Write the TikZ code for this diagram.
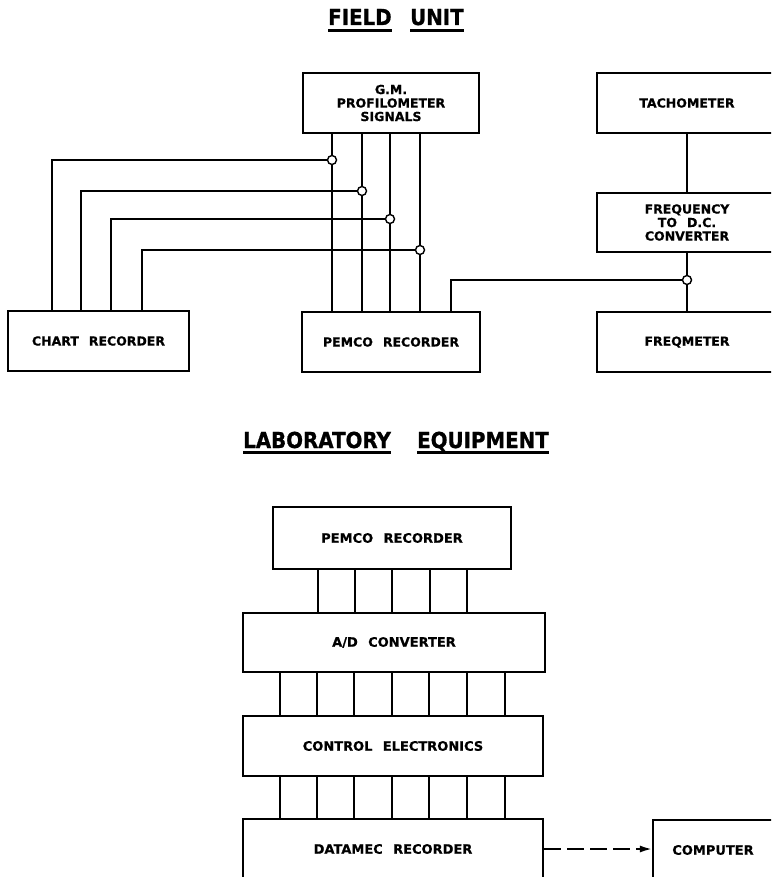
\documentclass[tikz,border=0pt]{standalone}
\usepackage{fontspec}
\usepackage{graphicx}
\setmainfont{DejaVu Sans}
\newfontfamily\labelface{DejaVu Sans Bold}[WordSpace=2.3, FakeBold=0.6]
\newfontfamily\headface{DejaVu Sans Bold}[FakeBold=1]
\newcommand{\lblfont}{\labelface\fontsize{12.5}{13.5}\selectfont}
\newcommand{\lblbigfont}{\labelface\fontsize{13}{14}\selectfont}
\newcommand{\headfont}{\headface\fontsize{22}{24}\selectfont}
\newcommand{\headword}[1]{\scalebox{0.9}[1]{#1}}
\usetikzlibrary{arrows.meta}

\begin{document}
\begin{tikzpicture}[x=1pt,y=-1pt,
  box/.style={draw, line width=2.1pt, rectangle, inner sep=0pt, align=center, font=\lblfont},
  labbox/.style={box, font=\lblbigfont},
  wire/.style={line width=1.9pt},
  junction/.style={circle, draw, fill=white, line width=1.4pt, inner sep=0pt, minimum size=9pt},
  headtext/.style={inner sep=0pt, font=\headfont, anchor=base west},
  headrule/.style={line width=3pt}]

\useasboundingbox (0,0) rectangle (771,877);
\clip (0,0) rectangle (771,877);

% ---------- Field unit ----------
\node[headtext] (fieldw) at (328,25) {\headword{FIELD}};
\node[headtext] (unitw)  at (410,25) {\headword{UNIT}};
\draw[headrule] ([yshift=-6pt]fieldw.base west) -- ([yshift=-6pt]fieldw.base east);
\draw[headrule] ([yshift=-6pt]unitw.base west) -- ([yshift=-6pt]unitw.base east);

\node[box, minimum width=176pt, minimum height=60pt] (gm) at (391,103)
  {G.M.\\PROFILOMETER\\SIGNALS};
\node[box, minimum width=178pt, minimum height=60pt] (pemcoF) at (391,342) {PEMCO RECORDER};
\node[box, minimum width=181pt, minimum height=60pt] (chart) at (98.5,341) {CHART RECORDER};
\node[box, minimum width=180pt, minimum height=60pt] (tacho) at (687,103) {TACHOMETER};
\node[box, minimum width=180pt, minimum height=59pt] (freq) at (687,222.5)
  {FREQUENCY\\TO D.C.\\CONVERTER};
\node[box, minimum width=180pt, minimum height=60pt] (freqm) at (687,342) {FREQMETER};

% tap points on the signal lines
\coordinate (j1) at (332,160);
\coordinate (j2) at (362,191);
\coordinate (j3) at (390,219);
\coordinate (j4) at (420,250);
\coordinate (j5) at (687,280);

% signal lines from the profilometer to the PEMCO recorder
\foreach \x in {332,362,390,420}
  \draw[wire] (\x,0 |- gm.south) -- (\x,0 |- pemcoF.north);

% chart recorder taps
\draw[wire] (52,0 |- chart.north)  |- (j1);
\draw[wire] (81,0 |- chart.north)  |- (j2);
\draw[wire] (111,0 |- chart.north) |- (j3);
\draw[wire] (142,0 |- chart.north) |- (j4);

% speed channel
\draw[wire] (tacho.south) -- (freq.north);
\draw[wire] (freq.south) -- (freqm.north);
\draw[wire] (451,0 |- pemcoF.north) |- (j5);

\foreach \j in {j1,j2,j3,j4,j5}
  \node[junction] at (\j) {};

% ---------- Laboratory equipment ----------
\node[headtext] (labw)   at (243,448) {\headword{LABORATORY}};
\node[headtext] (equipw) at (417,448) {\headword{EQUIPMENT}};
\draw[headrule] ([yshift=-4pt]labw.base west) -- ([yshift=-4pt]labw.base east);
\draw[headrule] ([yshift=-4pt]equipw.base west) -- ([yshift=-4pt]equipw.base east);

\node[labbox, minimum width=238pt, minimum height=62pt] (pemcoL) at (392,538) {PEMCO RECORDER};
\node[labbox, minimum width=302pt, minimum height=59pt] (ad) at (394,642.5) {A/D CONVERTER};
\node[labbox, minimum width=300pt, minimum height=60pt] (ctrl) at (393,746) {CONTROL ELECTRONICS};
\node[labbox, minimum width=300pt, minimum height=60pt] (datamec) at (393,849) {DATAMEC RECORDER};
\node[labbox, minimum width=120pt, minimum height=60pt] (computer) at (713,850) {COMPUTER};

\foreach \x in {318,355,392,430,467}
  \draw[wire] (\x,0 |- pemcoL.south) -- (\x,0 |- ad.north);
\foreach \x in {280,317,354,392,429,467,505}
  \draw[wire] (\x,0 |- ad.south) -- (\x,0 |- ctrl.north);
\foreach \x in {280,317,354,392,429,467,505}
  \draw[wire] (\x,0 |- ctrl.south) -- (\x,0 |- datamec.north);

\draw[wire, dash pattern=on 17pt off 6pt, -{Latex[length=12pt,width=7pt]}]
  (datamec.east) -- (datamec.east -| computer.west);

\end{tikzpicture}
\end{document}
